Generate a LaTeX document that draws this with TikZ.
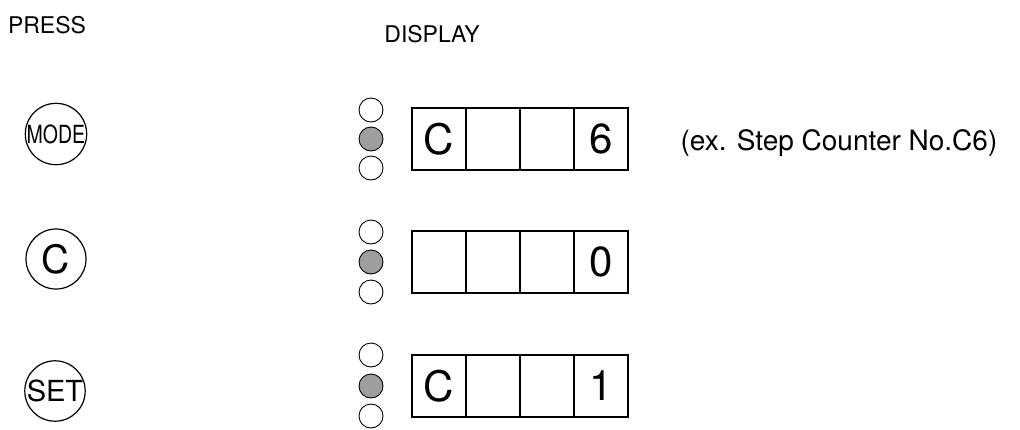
\documentclass[tikz,border=0pt]{standalone}
\usepackage{fontspec}
\setmainfont{TeX Gyre Heros}
\usepackage{graphicx}
\tikzset{
  key/.style={draw,circle,line width=1.2pt,minimum size=60pt,inner sep=0pt},
  cell/.style={draw,line width=1.6pt,minimum width=54pt,minimum height=62pt,inner sep=0pt,font=\fontsize{42}{42}\selectfont},
  lamp/.style={draw,circle,line width=0.9pt,minimum size=24pt,inner sep=0pt},
  lampon/.style={lamp,fill=black!38},
}
\begin{document}
\begin{tikzpicture}[x=1pt,y=-1pt]
\useasboundingbox (0,0) rectangle (1020,429);
\node[anchor=base,font=\fontsize{23}{23}\selectfont] (press) at (47,33) {PRESS};
\node[anchor=base,font=\fontsize{23}{23}\selectfont] (display) at (432,42) {DISPLAY};
% MODE
\node[key] (mode) at (56,134) {\fontsize{25}{25}\selectfont\scalebox{0.78}[1]{MODE}};
\node[lamp] (ma) at (371,110) {};
\node[lampon] (mb) at (371,139) {};
\node[lamp] (mc) at (371,168) {};
\node[cell] (m1) at (439,139) {C};
\node[cell] (m2) at (493,139) {};
\node[cell] (m3) at (547,139) {};
\node[cell] (m4) at (601,139) {6};
\node[anchor=base west,font=\fontsize{28}{28}\selectfont] (note) at (677,150) {(ex. Step Counter No.C6)};
% C
\node[key,font=\fontsize{39}{39}\selectfont] (clear) at (56,259) {C};
\node[lamp] (ca) at (371,232) {};
\node[lampon] (cb) at (371,262) {};
\node[lamp] (cc) at (371,292) {};
\node[cell] (c1) at (439,262) {};
\node[cell] (c2) at (493,262) {};
\node[cell] (c3) at (547,262) {};
\node[cell] (c4) at (601,262) {0};
% SET
\node[key,font=\fontsize{29}{29}\selectfont] (set) at (55,391) {SET};
\node[lamp] (sa) at (371,355) {};
\node[lampon] (sb) at (371,386) {};
\node[lamp] (sc) at (371,416) {};
\node[cell] (s1) at (439,386) {C};
\node[cell] (s2) at (493,386) {};
\node[cell] (s3) at (547,386) {};
\node[cell] (s4) at (601,386) {1};
\end{tikzpicture}
\end{document}
